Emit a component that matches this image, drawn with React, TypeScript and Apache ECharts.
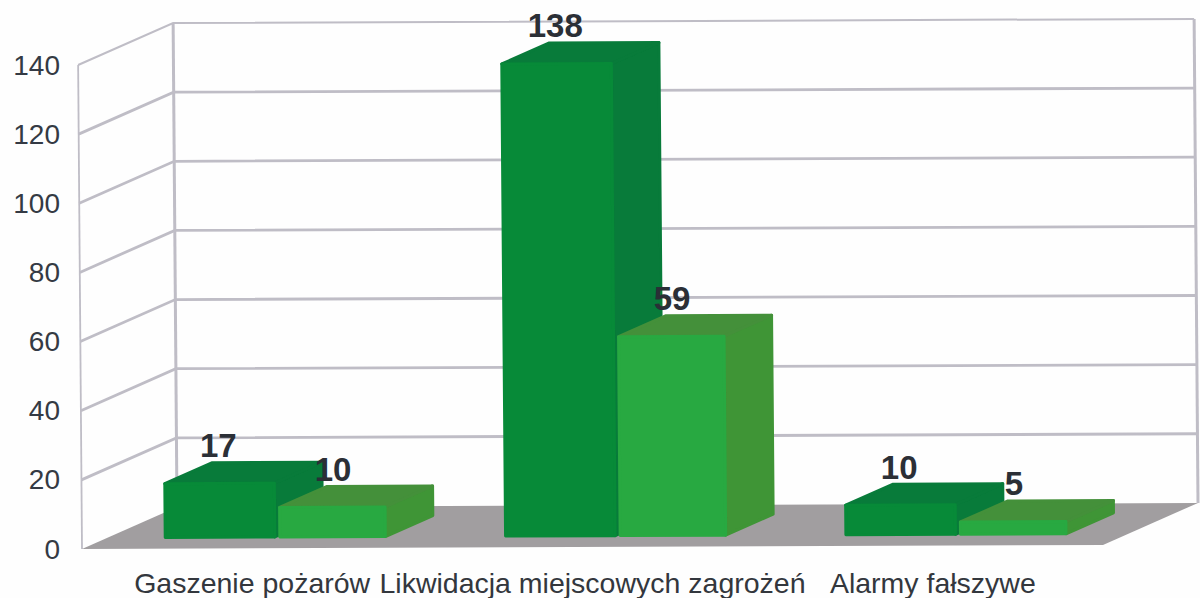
import React, { useEffect, useRef } from "react";
import * as echarts from "echarts";

const categories = ["Gaszenie pożarów", "Likwidacja miejscowych zagrożeń", "Alarmy fałszywe"];
const seriesA = [17, 138, 10];
const seriesB = [10, 59, 5];
const yTicks = [0, 20, 40, 60, 80, 100, 120, 140];

const DEPTH_X = 95;
const DEPTH_Y = 42;
const GRID = { left: 82, right: 97, top: 65, bottom: 49 };
const ORIGIN_X = GRID.left;
const ORIGIN_Y = 598 - GRID.bottom;

// oblique projection from the front plane of the plot, with the scan's small tilt
function project(x: number, y: number, d: number): number[] {
  return [
    x + d * DEPTH_X + (y - ORIGIN_Y) * 0.008,
    y - d * DEPTH_Y - (x - ORIGIN_X) * 0.004,
  ];
}

const WALL = "#bfbdc6";
const FLOOR = "#a19ea0";

function renderWall(params: any, api: any) {
  const cs = params.coordSys;
  const x0 = cs.x;
  const x1 = cs.x + cs.width;
  const y = api.coord([0, api.value(1)])[1];
  const children: any[] = [];
  const line = (pts: number[][], width: number) => ({
    type: "polyline",
    shape: { points: pts },
    style: { stroke: WALL, lineWidth: width, fill: "none" },
    silent: true,
  });
  if (api.value(1) === 0) {
    const yb = cs.y + cs.height;
    const yt = cs.y;
    children.push(line([project(x0, yb, 0), project(x0, yt, 0)], 1.8));
    children.push(line([project(x0, yb, 1), project(x0, yt, 1)], 3));
    children.push(line([project(x1, yb, 1), project(x1, yt, 1)], 3));
    children.push({
      type: "polygon",
      shape: { points: [project(x0, yb, 0), project(x1, yb, 0), project(x1, yb, 1), project(x0, yb, 1)] },
      style: { fill: FLOOR },
      silent: true,
      z2: 5,
    });
  } else {
    const w = api.value(1) === 140 ? 2 : 2.8;
    children.push(line([project(x0, y, 0), project(x0, y, 1), project(x1, y, 1)], w));
  }
  return { type: "group", children };
}

function makeBarRenderer(
  shift: number,
  widthShare: number,
  colors: { front: string; top: string; side: string },
) {
  return (params: any, api: any) => {
    const idx = api.value(0);
    const v = api.value(1);
    const [cx, y0] = api.coord([idx, 0]);
    const yv = api.coord([idx, v])[1] + 5;
    const cat = api.size([1, 0])[0];
    const bw = cat * widthShare;
    const l = cx + shift * bw + (shift < 0 ? -3 : 2);
    const r = l + bw;
    const dA = 0.27;
    const dB = 0.77;
    const poly = (pts: number[][], color: string) => ({
      type: "polygon",
      shape: { points: pts },
      style: { fill: color, stroke: color, lineWidth: 3, lineJoin: "round" },
      silent: true,
    });
    const backLeft = project(l, yv, dB);
    return {
      type: "group",
      children: [
        poly([project(r, y0, dA), project(r, y0, dB), project(r, yv, dB), project(r, yv, dA)], colors.side),
        poly([project(l, yv, dA), project(r, yv, dA), project(r, yv, dB), project(l, yv, dB)], colors.top),
        poly([project(l, y0, dA), project(r, y0, dA), project(r, yv, dA), project(l, yv, dA)], colors.front),
        {
          type: "text",
          x: backLeft[0] + 6,
          y: backLeft[1] - 17,
          silent: true,
          style: {
            text: String(v),
            font: "bold 33px 'Liberation Sans', Arial, sans-serif",
            fill: "#2b2f36",
            align: "center",
            verticalAlign: "middle",
          },
        },
      ],
    };
  };
}

export default function App() {
  const ref = useRef<HTMLDivElement>(null);
  useEffect(() => {
    if (!ref.current) return;
    const chart = echarts.init(ref.current, undefined, { renderer: "svg" });
    chart.setOption({
      animation: false,
      backgroundColor: "#fefefe",
      grid: { ...GRID },
      xAxis: {
        type: "category",
        data: categories,
        axisLine: { show: false },
        axisTick: { show: false },
        axisLabel: {
          interval: 0,
          margin: 19,
          color: "#33373d",
          fontSize: 28.5,
          fontFamily: "'Liberation Sans', Arial, sans-serif",
        },
      },
      yAxis: {
        type: "value",
        min: 0,
        max: 140,
        interval: 20,
        axisLine: { show: false },
        axisTick: { show: false },
        splitLine: { show: false },
        axisLabel: {
          margin: 22,
          color: "#343a44",
          fontSize: 28,
          fontFamily: "'Liberation Sans', Arial, sans-serif",
        },
      },
      series: [
        {
          type: "custom",
          name: "walls",
          clip: false,
          silent: true,
          encode: { x: 0, y: 1 },
          data: yTicks.map((t) => [0, t]),
          renderItem: renderWall,
          z: 1,
        },
        {
          type: "custom",
          name: "A",
          clip: false,
          silent: true,
          encode: { x: 0, y: 1 },
          data: seriesA.map((v, i) => [i, v]),
          renderItem: makeBarRenderer(-1, 0.322, { front: "#078a38", top: "#087b3a", side: "#087b3a" }),
          z: 2,
        },
        {
          type: "custom",
          name: "B",
          clip: false,
          silent: true,
          encode: { x: 0, y: 1 },
          data: seriesB.map((v, i) => [i, v]),
          renderItem: makeBarRenderer(0, 0.31, { front: "#28a941", top: "#44903a", side: "#3f9536" }),
          z: 3,
        },
      ],
    });
    return () => chart.dispose();
  }, []);
  return <div ref={ref} style={{ position: "fixed", left: 0, top: 0, width: 1200, height: 598 }} />;
}
